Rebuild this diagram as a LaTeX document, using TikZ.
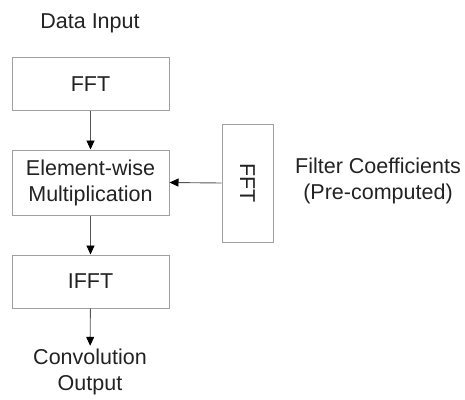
\documentclass[tikz,border=0pt]{standalone}
\usepackage{fontspec}
\setmainfont{Liberation Sans}
\usetikzlibrary{arrows.meta}
\definecolor{boxline}{HTML}{A0A0A0}
\definecolor{arrline}{HTML}{555555}
\definecolor{txt}{HTML}{222222}
\tikzset{
    block/.style={draw=boxline, line width=1pt, inner sep=0pt, align=center,
        text=txt, font=\fontsize{21.5}{26}\selectfont},
    label/.style={inner sep=0pt, align=center, text=txt,
        font=\fontsize{21.5}{26}\selectfont},
    flow/.style={draw=arrline, line width=0.9pt, -{Triangle[length=9pt,width=8pt,color=black]}}
}
\begin{document}
\begin{tikzpicture}[x=1pt,y=-1pt]
\useasboundingbox (0,0) rectangle (465,399);

% Main chain
\node[label] (input) at (90,23) {Data Input};
\node[block, minimum width=157pt, minimum height=53pt] (fft) at (90.5,84) {FFT};
\node[block, minimum width=157pt, minimum height=65pt] (mult) at (90.5,182.5) {Element-wise\\Multiplication};
\node[block, minimum width=157pt, minimum height=53pt] (ifft) at (90.5,281.5) {IFFT};
\node[label, inner sep=3pt] (output) at (90,372) {Convolution\\Output};

% Filter branch
\node[block, minimum width=118pt, minimum height=51pt, rotate=-90] (fftc) at (247.5,183) {FFT};
\node[label] (coeff) at (378,181) {Filter Coefficients\\(Pre-computed)};

\draw[flow] (fft) -- (mult);
\draw[flow] (mult) -- (ifft);
\draw[flow] (ifft) -- (output);
\draw[flow] (fftc.south) -- (mult.east);
\end{tikzpicture}
\end{document}
